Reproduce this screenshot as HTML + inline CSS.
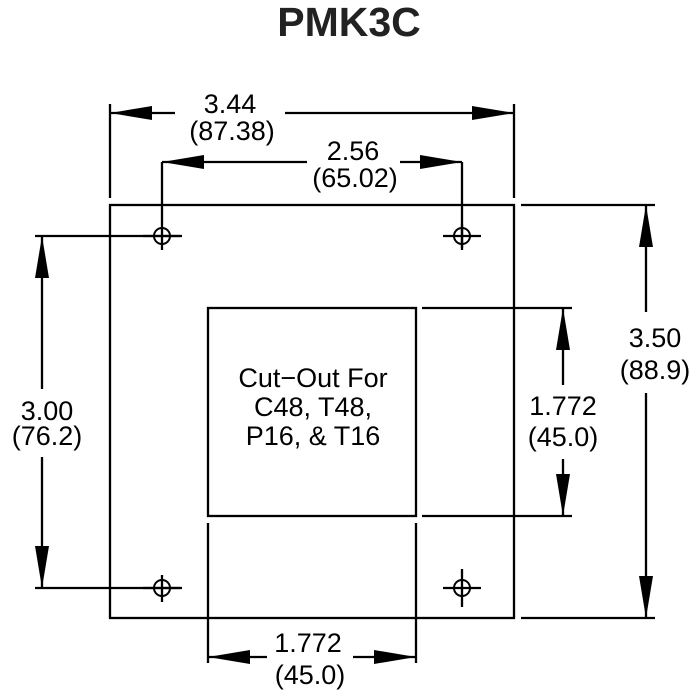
<!DOCTYPE html>
<html><head><style>body{margin:0;background:#fff}svg{display:block}</style></head><body>
<svg width="700" height="700" viewBox="0 0 700 700" xmlns="http://www.w3.org/2000/svg">
<rect width="700" height="700" fill="#fff"/>
<text x="349" y="36" text-anchor="middle" font-family="Liberation Sans, sans-serif" font-weight="bold" font-size="41" fill="#222">PMK3C</text>
<g stroke="#000" stroke-width="2.3" fill="none">
<rect x="110" y="205" width="404" height="413"/>
<rect x="208" y="308" width="208" height="208"/>
<path d="M208 523V663M416 523V663"/>
<path d="M422 308H572M422 516H572"/>
<path d="M521 618H655M521 205H655"/>
<path d="M110 104V198M514 104V198"/>
<path d="M162 162V250M462 162V250"/>
<path d="M35 236H180M35 588H180"/>
<path d="M143 236H182M443 236H481M143 588H182M443 588H481M162 575V602M462 224V248M462 569V607"/>
<path d="M110 113H175M285 113H514"/>
<path d="M162 162H307M400 162H462"/>
<path d="M42 236V389M42 457V588"/>
<path d="M646 205V312M646 393V618"/>
<path d="M563 308V385M563 459V516"/>
<path d="M208 657H267M353 657H416"/>
</g>
<g fill="none" stroke="#000" stroke-width="2">
<circle cx="162" cy="236" r="8"/><circle cx="462" cy="236" r="8"/>
<circle cx="162" cy="588" r="8"/><circle cx="462" cy="588" r="8"/>
</g>
<g fill="#000">
<path d="M110 113L152 106V120Z"/><path d="M514 113L472 106V120Z"/>
<path d="M162 162L204 155V169Z"/><path d="M462 162L420 155V169Z"/>
<path d="M42 236L35 278H49Z"/><path d="M42 588L35 546H49Z"/>
<path d="M646 205L639 247H653Z"/><path d="M646 618L639 576H653Z"/>
<path d="M563 308L556 350H570Z"/><path d="M563 516L556 474H570Z"/>
<path d="M208 657L250 650V664Z"/><path d="M416 657L374 650V664Z"/>
</g>
<g font-family="Liberation Sans, sans-serif" font-size="27" fill="#000" text-anchor="middle">
<text x="230" y="113">3.44</text><text x="232" y="140">(87.38)</text>
<text x="353" y="160">2.56</text><text x="355" y="187">(65.02)</text>
<text x="47" y="420">3.00</text><text x="47" y="445">(76.2)</text>
<text x="655" y="347">3.50</text><text x="655" y="379">(88.9)</text>
<text x="563" y="415">1.772</text><text x="563" y="446">(45.0)</text>
<text x="308" y="652">1.772</text><text x="310" y="684">(45.0)</text>
<text x="313" y="387">Cut−Out For</text><text x="313" y="416">C48, T48,</text><text x="313" y="445">P16, &amp; T16</text>
</g>
</svg>
</body></html>
